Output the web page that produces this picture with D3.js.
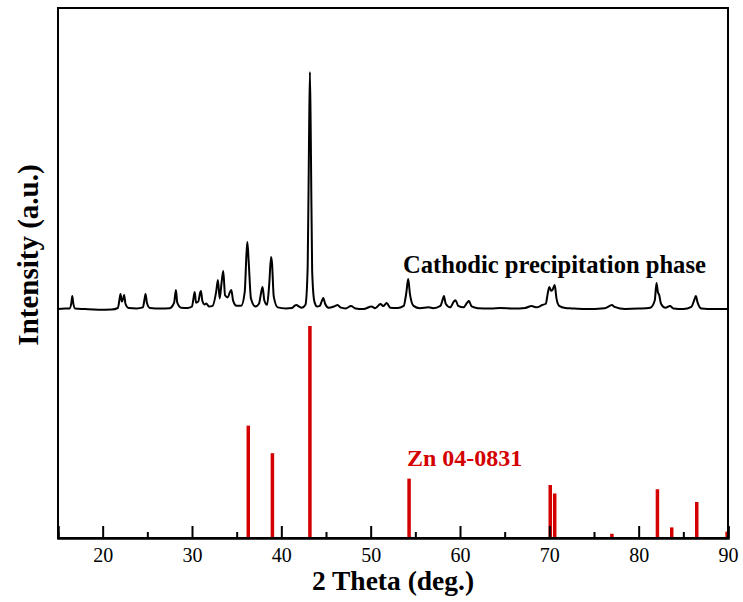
<!DOCTYPE html>
<html>
<head>
<meta charset="utf-8">
<script src="https://cdn.jsdelivr.net/npm/d3@7"></script>
<style>
  body { margin: 0; background: #fff; }
  text { font-family: "Liberation Serif", "Times New Roman", serif; }
</style>
</head>
<body>
<script>
  // measured pattern: [2theta, intensity above baseline]
  var pattern = [
    [15.0,0],[15.8,0.2],[16.3,0.3],[16.5,3],[16.6,6.1],[16.7,3],[16.9,0.3],[18,0],[19.5,-0.3],[21,-0.2],
    [21.7,0.5],[21.9,5],[22.0,7.1],[22.15,3.5],[22.3,5],[22.4,6.6],[22.55,2.5],[22.9,0.5],[23.8,0.3],
    [24.5,0.8],[24.7,5],[24.8,7.1],[24.95,3],[25.3,0.5],[26.5,0.2],[27.5,0.4],[28.0,3],[28.2,9],[28.35,3],
    [28.8,0.6],[29.5,0.5],[30.0,1.2],[30.2,6],[30.3,8],[30.45,3],[30.7,3.5],[30.9,7.5],[31.0,8.5],[31.15,4],
    [31.4,2.2],[31.6,2.6],[31.9,1.2],[32.3,1.5],[32.7,8],[32.9,13.7],[33.1,5],[33.3,12],[33.5,17.9],[33.7,6.5],
    [34.0,5.5],[34.25,8],[34.4,9],[34.6,4],[35.0,1.5],[35.5,1.5],[35.9,8],[36.1,26],[36.2,31.6],[36.35,22],
    [36.6,5],[37.1,1.2],[37.5,2.5],[37.75,8],[37.9,10.4],[38.1,4],[38.4,2],[38.65,12],[38.85,24.5],[38.95,22],
    [39.15,6],[39.6,0.8],[40.5,0.3],[41.2,0.5],[41.5,1.6],[41.7,1.9],[41.9,1.4],[42.3,0.6],[42.7,2],[42.95,20],
    [43.1,80],[43.2,111.8],[43.3,80],[43.45,18],[43.7,3.5],[44.0,1.2],[44.3,1.5],[44.55,4],[44.7,5.2],[44.9,2.5],
    [45.3,0.6],[46.0,1.4],[46.3,1.9],[46.6,0.8],[47.2,0.3],[47.8,1.4],[48.3,0.3],[49.2,0],[50.1,1.2],[50.5,0.4],
    [51.1,2.4],[51.4,1.4],[51.8,2.8],[52.2,0.6],[53.0,0.5],[53.7,1.5],[54.0,8],[54.2,14.2],[54.4,7],[54.8,1.5],
    [55.5,0.4],[56.5,0.8],[57.0,0.4],[57.8,1.5],[58.1,5],[58.2,6.1],[58.4,2.5],[58.9,0.8],[59.3,3.5],[59.5,4.2],
    [59.8,1.5],[60.4,0.8],[60.8,3],[61.0,3.8],[61.3,1.2],[62,0.4],[63.5,0.2],[64.5,0.5],[66,0.2],[67.3,0.5],
    [68,1.4],[68.6,0.8],[69.2,1.9],[69.6,2.5],[69.85,8],[70.0,10.4],[70.2,8.6],[70.35,9],[70.6,11.3],[70.8,5],
    [71.1,1.5],[71.8,0.5],[72.5,0.3],[74,0],[76.2,0.4],[76.8,1.6],[77.0,1.9],[77.3,1],[78.5,0],[80,0.2],
    [81.3,0.6],[81.8,4],[82.0,12.3],[82.15,8],[82.3,6.6],[82.5,2.5],[83.0,0.6],[83.5,1.4],[83.9,0.3],[85,0],
    [85.9,1],[86.2,4],[86.4,6.1],[86.6,3],[87.0,0.3],[88.5,0],[90,0]
  ];
  var patternOffset = 108;

  // Zn 04-0831 reference lines
  var refPos = [36.3, 39.0, 43.2, 54.3, 70.1, 70.6, 77.0, 82.1, 83.7, 86.5, 89.9];
  var refInt = [53, 40, 100, 28, 25, 21, 2, 23, 5, 17, 3];

  var majorTicks = [20, 30, 40, 50, 60, 70, 80, 90];
  var minorTicks = [15, 25, 35, 45, 55, 65, 75, 85];

  var margin = {top: 8, right: 15, bottom: 64, left: 58},
      W = 743, H = 602,
      width = W - margin.left - margin.right,
      height = H - margin.top - margin.bottom;

  var red = "#d40000";

  var x = d3.scaleLinear().domain([15, 90]).range([0, width]);
  var y = d3.scaleLinear().domain([0, 250]).range([height, 0]);

  var svg = d3.select("body").append("svg")
      .attr("width", W)
      .attr("height", H);

  var g = svg.append("g")
      .attr("transform", "translate(" + margin.left + "," + margin.top + ")");

  // reference sticks
  g.selectAll(".stick")
    .data(refPos.map(function(p, i) { return {p: p, v: refInt[i]}; }))
    .enter().append("line")
      .attr("class", "stick")
      .attr("x1", function(d) { return x(d.p); })
      .attr("x2", function(d) { return x(d.p); })
      .attr("y1", y(0))
      .attr("y2", function(d) { return y(d.v); })
      .attr("stroke", red)
      .attr("stroke-width", 3.5);

  // measured pattern
  var line = d3.line()
    .x(function(d) { return x(d[0]); })
    .y(function(d) { return y(d[1] + patternOffset); })
    .curve(d3.curveMonotoneX);

  g.append("path")
    .datum(pattern)
    .attr("fill", "none")
    .attr("stroke", "#000")
    .attr("stroke-width", 2)
    .attr("stroke-linejoin", "round")
    .attr("d", line);

  // frame
  g.append("rect")
    .attr("width", width)
    .attr("height", height)
    .attr("fill", "none")
    .attr("stroke", "#000")
    .attr("stroke-width", 2);

  // bottom axis, ticks pointing inward
  var xAxis = d3.axisBottom(x)
    .tickValues(majorTicks)
    .tickSize(-12)
    .tickPadding(10)
    .tickFormat(d3.format("d"));

  var ax = g.append("g")
    .attr("transform", "translate(0," + height + ")")
    .call(xAxis);
  ax.select(".domain").attr("stroke-width", 2.5);
  ax.selectAll(".tick line").attr("stroke-width", 2);
  ax.selectAll(".tick text")
    .style("font-family", "'Liberation Serif', serif")
    .style("font-size", "20px")
    .attr("fill", "#000");

  var minor = g.append("g")
    .attr("transform", "translate(0," + height + ")")
    .call(d3.axisBottom(x).tickValues(minorTicks).tickSize(-6).tickFormat(""));
  minor.select(".domain").remove();
  minor.selectAll(".tick line").attr("stroke-width", 2);

  // labels
  svg.append("text")
    .attr("x", margin.left + width / 2)
    .attr("y", 590)
    .attr("text-anchor", "middle")
    .style("font-size", "27.5px")
    .style("font-weight", "bold")
    .text("2 Theta (deg.)");

  svg.append("text")
    .attr("transform", "translate(38,255) rotate(-90)")
    .attr("text-anchor", "middle")
    .style("font-size", "29px")
    .style("font-weight", "bold")
    .text("Intensity (a.u.)");

  svg.append("text")
    .attr("x", 403)
    .attr("y", 273)
    .style("font-size", "24.6px")
    .style("font-weight", "bold")
    .text("Cathodic precipitation phase");

  svg.append("text")
    .attr("x", 407)
    .attr("y", 466)
    .attr("fill", red)
    .style("font-size", "24px")
    .style("font-weight", "bold")
    .text("Zn 04-0831");
</script>
</body>
</html>
